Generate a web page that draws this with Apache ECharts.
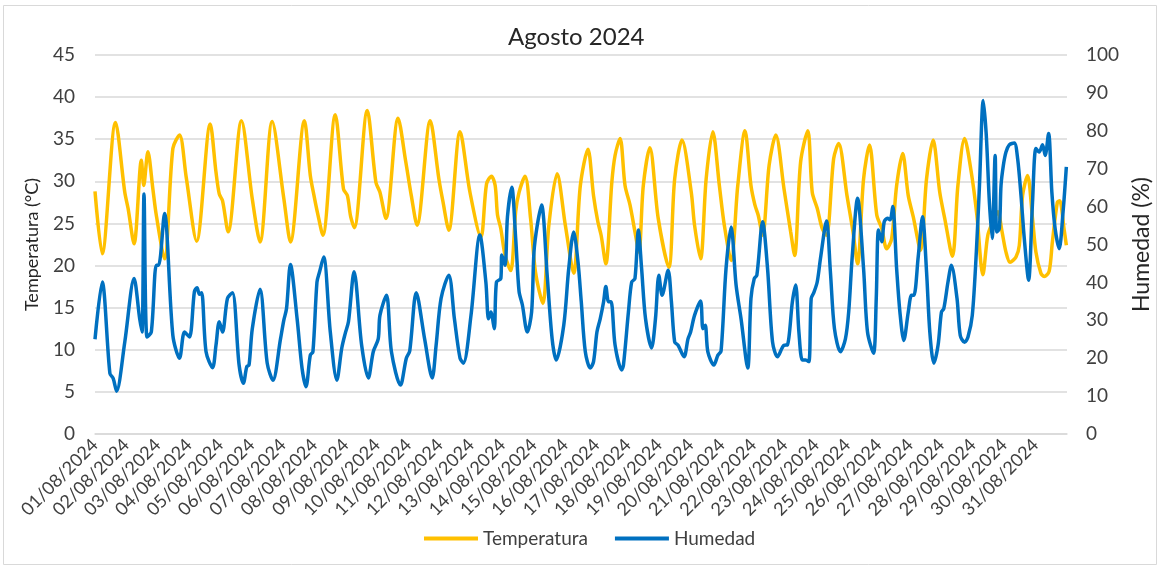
<!DOCTYPE html>
<html>
<head>
<meta charset="utf-8">
<script src="https://cdn.jsdelivr.net/npm/echarts@6/dist/echarts.min.js"></script>
<style>
  html, body { margin: 0; padding: 0; background: #fff; }
  #grafico { width: 1161px; height: 569px; }
</style>
</head>
<body>
<div id="grafico"></div>
<script>
// etiquetas del eje X, una por día
const fechas = [];
for (let d = 1; d <= 31; d++) {
  fechas.push((d < 10 ? '0' + d : d) + '/08/2024');
}

// [hora desde 01/08 00:00, °C]
const temperatura = [
  [0, 28.8], [5.5, 21.4], [15.7, 37.0], [22.8, 28.7], [25.3, 26.8], [29.9, 22.6],
  [35.5, 32.5], [37.3, 29.5], [40.5, 33.5], [44.3, 29.1], [46.9, 26.0], [53.2, 20.8],
  [59.6, 33.9], [64.7, 35.5], [69.8, 30.5], [77.8, 22.9], [88.2, 36.8], [92.6, 31.1],
  [95.1, 28.5], [97.6, 27.7], [101.9, 24.0], [112.1, 37.2], [120.4, 27.9], [126.3, 22.8],
  [135.6, 37.1], [144.5, 28.0], [149.6, 22.8], [160.3, 37.2], [164.8, 30.7], [167.9, 28.1],
  [170.4, 26.2], [174.4, 23.6], [183.9, 37.9], [190.2, 29.1], [193.2, 28.3], [195.7, 25.8],
  [198.5, 24.5], [208.4, 38.4], [215.0, 29.9], [218.1, 28.7], [222.7, 25.6], [232.0, 37.5],
  [237.9, 32.3], [242.1, 28.3], [246.5, 24.8], [256.6, 37.2], [263.2, 30.3], [266.2, 27.7],
  [270.8, 24.2], [279.4, 35.9], [287.0, 28.7], [295.4, 23.4], [299.7, 29.7], [303.5, 30.6],
  [306.3, 29.5], [308.1, 26.0], [310.6, 24.4], [313.9, 21.2], [318.2, 19.4], [322.0, 26.4],
  [324.6, 28.7], [329.2, 30.6], [333.4, 25.6], [337.2, 19.2], [342.8, 15.5], [347.4, 24.8],
  [353.7, 30.9], [360.0, 24.8], [366.4, 19.1], [371.5, 29.5], [377.3, 33.8], [381.6, 28.3],
  [384.9, 25.2], [387.4, 23.6], [391.0, 20.2], [395.6, 29.9], [398.1, 33.1], [401.9, 35.1],
  [405.7, 29.5], [409.5, 27.2], [413.3, 24.0], [416.3, 21.6], [419.7, 29.5], [424.7, 34.0],
  [431.1, 25.6], [439.2, 19.8], [443.7, 30.3], [449.3, 34.9], [456.4, 28.7], [458.9, 24.8],
  [463.5, 20.8], [467.8, 30.3], [472.9, 35.9], [477.9, 29.5], [481.7, 24.8], [486.9, 20.6],
  [492.0, 29.5], [497.5, 36.0], [502.1, 29.5], [505.1, 27.2], [507.6, 26.0], [511.0, 23.6],
  [516.0, 31.9], [521.1, 35.5], [527.4, 29.1], [532.5, 24.0], [535.5, 21.2], [540.1, 32.3],
  [545.6, 36.0], [549.0, 28.7], [552.8, 26.8], [556.6, 24.4], [559.9, 23.6], [565.4, 32.7],
  [569.2, 34.5], [575.6, 28.3], [580.2, 24.0], [583.7, 20.2], [588.3, 30.3], [592.8, 34.3],
  [598.4, 26.0], [602.2, 24.4], [606.0, 22.0], [609.8, 23.2], [613.6, 29.5], [618.2, 33.3],
  [622.5, 28.3], [626.3, 25.8], [631.9, 21.8], [636.5, 30.3], [641.5, 34.9], [646.6, 28.7],
  [650.4, 25.6], [656.3, 21.1], [660.5, 29.5], [665.6, 35.1], [670.7, 31.1], [675.0, 26.0],
  [679.6, 18.9], [683.4, 23.6], [687.2, 25.2], [691.0, 26.4], [694.3, 24.0], [697.3, 21.6],
  [700.4, 20.4], [704.9, 21.0], [707.5, 22.4], [710.0, 28.3], [713.8, 30.7], [717.6, 25.6],
  [720.2, 21.6], [724.0, 19.1], [726.5, 18.7], [730.3, 19.3], [732.8, 22.8], [736.6, 27.5],
  [738.4, 27.7], [741.7, 24.4], [743.5, 22.4]
];

// [hora desde 01/08 00:00, %]
const humedad = [
  [0, 25.0], [5.5, 40.1], [11.4, 16.0], [13.9, 14.7], [16.5, 11.3], [22.8, 24.3],
  [29.9, 41.0], [34.2, 30.4], [36.0, 26.9], [37.5, 63.3], [39.8, 25.6], [43.1, 26.9],
  [46.9, 44.5], [48.7, 44.5], [53.2, 58.2], [59.6, 26.0], [64.7, 20.0], [68.5, 26.9],
  [72.3, 25.6], [76.1, 37.6], [78.1, 38.6], [79.9, 36.9], [81.6, 37.3], [85.0, 21.7],
  [90.0, 17.5], [92.6, 23.4], [95.1, 29.6], [97.6, 26.9], [101.4, 35.8], [105.2, 37.3],
  [110.3, 18.2], [113.6, 13.4], [116.2, 17.8], [117.9, 18.2], [120.4, 27.8], [126.3, 38.2],
  [131.8, 18.7], [136.2, 14.2], [142.0, 25.1], [144.5, 30.0], [146.6, 33.1], [149.6, 44.7],
  [154.7, 30.4], [158.5, 17.3], [161.5, 12.5], [164.8, 20.8], [166.8, 21.7], [169.9, 40.1],
  [171.9, 42.8], [175.0, 46.7], [180.1, 26.9], [185.1, 14.2], [188.9, 22.7], [191.5, 26.5],
  [194.0, 29.6], [198.3, 42.8], [204.1, 23.4], [209.2, 14.8], [213.0, 21.7], [216.8, 25.1],
  [218.1, 31.3], [223.1, 36.6], [226.9, 21.7], [233.8, 12.9], [238.3, 20.0], [240.9, 21.9],
  [245.9, 37.3], [252.3, 25.1], [258.1, 14.8], [261.1, 23.4], [264.9, 35.8], [270.8, 41.9],
  [275.1, 30.4], [279.4, 20.0], [282.0, 18.7], [287.8, 31.3], [294.6, 52.5], [299.2, 40.0],
  [301.2, 30.4], [303.0, 32.2], [305.6, 27.8], [307.3, 40.1], [310.6, 41.0], [311.4, 47.2],
  [313.9, 44.5], [315.7, 57.3], [319.0, 65.1], [322.0, 51.6], [324.6, 37.6], [327.1, 34.1],
  [330.9, 26.9], [334.2, 32.2], [336.0, 48.0], [338.5, 55.0], [341.8, 60.4], [346.1, 41.9],
  [349.9, 25.1], [353.0, 19.5], [358.8, 28.7], [362.6, 43.6], [366.4, 53.3], [369.7, 45.4],
  [372.2, 34.9], [375.3, 21.7], [379.1, 17.4], [381.6, 19.1], [384.2, 26.9], [386.7, 30.4],
  [389.3, 34.9], [391.0, 38.9], [393.1, 34.9], [395.0, 34.9], [398.1, 23.4], [403.2, 16.9],
  [404.5, 18.2], [408.3, 32.2], [410.8, 40.1], [413.3, 41.0], [415.9, 53.8], [418.4, 43.6],
  [421.4, 30.4], [426.0, 22.7], [429.0, 30.4], [431.6, 41.9], [434.1, 36.6], [438.7, 43.2],
  [441.2, 34.9], [443.7, 24.3], [446.3, 23.4], [450.9, 20.4], [453.9, 25.1], [455.9, 26.9],
  [458.9, 31.3], [463.5, 35.1], [465.3, 27.8], [467.1, 28.7], [469.1, 21.7], [473.7, 18.2],
  [476.8, 20.8], [479.2, 21.9], [483.0, 43.6], [486.9, 54.6], [490.7, 39.3], [494.5, 30.4],
  [499.6, 17.4], [502.1, 35.8], [504.6, 41.0], [506.6, 41.9], [511.0, 56.0], [514.8, 43.6],
  [518.6, 24.3], [522.4, 20.4], [527.4, 23.4], [530.0, 23.5], [533.8, 34.9], [536.3, 39.3],
  [538.8, 26.9], [541.4, 19.5], [543.9, 19.5], [546.4, 19.1], [548.2, 35.8], [550.2, 37.3],
  [552.8, 40.1], [555.3, 46.3], [559.9, 56.2], [562.9, 42.8], [566.0, 27.8], [570.6, 21.7],
  [574.4, 25.1], [576.9, 32.2], [579.5, 46.3], [583.7, 62.2], [588.3, 43.6], [591.3, 26.9],
  [595.9, 21.3], [598.0, 35.8], [599.7, 53.8], [602.2, 50.7], [604.1, 56.0], [606.6, 56.9],
  [608.6, 56.5], [610.6, 60.0], [613.6, 43.6], [616.1, 32.2], [619.1, 24.7], [622.5, 32.2],
  [625.0, 36.6], [626.8, 36.6], [630.1, 46.7], [633.4, 57.3], [636.5, 42.8], [639.0, 26.9],
  [642.1, 18.7], [645.3, 23.4], [647.9, 32.2], [649.7, 33.1], [652.9, 40.1], [655.5, 44.5],
  [659.8, 35.8], [662.3, 26.0], [665.6, 24.2], [668.2, 25.6], [671.5, 31.3], [674.6, 48.0],
  [677.0, 65.6], [679.9, 88.0], [682.2, 78.9], [684.6, 61.1], [686.7, 51.6], [689.0, 73.5],
  [690.2, 53.3], [692.2, 54.2], [693.5, 65.6], [695.3, 70.9], [697.3, 74.4], [699.8, 76.3],
  [703.6, 76.8], [706.2, 72.7], [708.8, 62.9], [711.3, 51.6], [714.6, 40.6], [717.6, 61.1],
  [720.2, 75.3], [722.7, 74.4], [725.3, 76.3], [727.3, 73.5], [729.9, 79.3], [732.4, 63.8],
  [734.9, 54.2], [738.0, 48.9], [741.0, 58.7], [743.5, 70.5]
];

const textoColor = '#404040';
const fuente = 'Lato';

const chart = echarts.init(document.getElementById('grafico'));
const option = {
  animation: false,
  backgroundColor: '#fff',
  textStyle: { fontFamily: fuente },
  title: {
    text: 'Agosto 2024',
    left: 503,
    top: 20,
    textStyle: { fontFamily: fuente, fontSize: 24, fontWeight: 'normal', color: '#262626' }
  },
  // marco exterior del gráfico
  graphic: [{
    type: 'rect',
    shape: { x: 3.5, y: 5.5, width: 1153, height: 559 },
    style: { fill: 'none', stroke: '#D9D9D9', lineWidth: 1 },
    silent: true
  }],
  legend: {
    bottom: 16,
    left: 419,
    icon: 'rect',
    itemWidth: 54,
    itemHeight: 4,
    itemGap: 27,
    textStyle: { fontFamily: fuente, fontSize: 19, color: textoColor },
    data: ['Temperatura', 'Humedad']
  },
  grid: { left: 95, right: 88, top: 55, bottom: 135 },
  xAxis: {
    type: 'value',
    min: 0,
    max: 744,
    interval: 24,
    axisLine: { show: true, lineStyle: { color: '#D9D9D9', width: 1.5 } },
    axisTick: { show: false },
    splitLine: { show: false },
    axisLabel: {
      rotate: 45,
      margin: 8,
      fontFamily: fuente,
      fontSize: 18,
      color: textoColor,
      formatter: function (v) {
        const i = Math.round(v / 24);
        return (i < fechas.length) ? fechas[i] : '';
      }
    }
  },
  yAxis: [{
    type: 'value',
    min: 0,
    max: 45,
    interval: 5,
    name: 'Temperatura (°C)',
    nameLocation: 'middle',
    nameRotate: 90,
    nameGap: 54,
    nameTextStyle: { fontFamily: fuente, fontSize: 18, color: '#262626' },
    axisLine: { show: false },
    axisTick: { show: false },
    axisLabel: { margin: 20, fontFamily: fuente, fontSize: 19, color: textoColor },
    splitLine: { lineStyle: { color: '#D9D9D9', width: 1.5 } }
  }, {
    type: 'value',
    min: 0,
    max: 100,
    interval: 10,
    position: 'right',
    name: 'Humedad (%)',
    nameLocation: 'middle',
    nameRotate: 90,
    nameGap: 63,
    nameTextStyle: { fontFamily: fuente, fontSize: 23, color: '#262626' },
    axisLine: { show: false },
    axisTick: { show: false },
    axisLabel: { margin: 19, fontFamily: fuente, fontSize: 19, color: textoColor },
    splitLine: { show: false }
  }],
  series: [{
    name: 'Temperatura',
    type: 'line',
    yAxisIndex: 0,
    data: temperatura,
    showSymbol: false,
    smooth: 0.3,
    lineStyle: { color: '#FFC000', width: 3.5 },
    itemStyle: { color: '#FFC000' }
  }, {
    name: 'Humedad',
    type: 'line',
    yAxisIndex: 1,
    data: humedad,
    showSymbol: false,
    smooth: 0.3,
    lineStyle: { color: '#0070C0', width: 3.5 },
    itemStyle: { color: '#0070C0' }
  }]
};
chart.setOption(option);
</script>
</body>
</html>
